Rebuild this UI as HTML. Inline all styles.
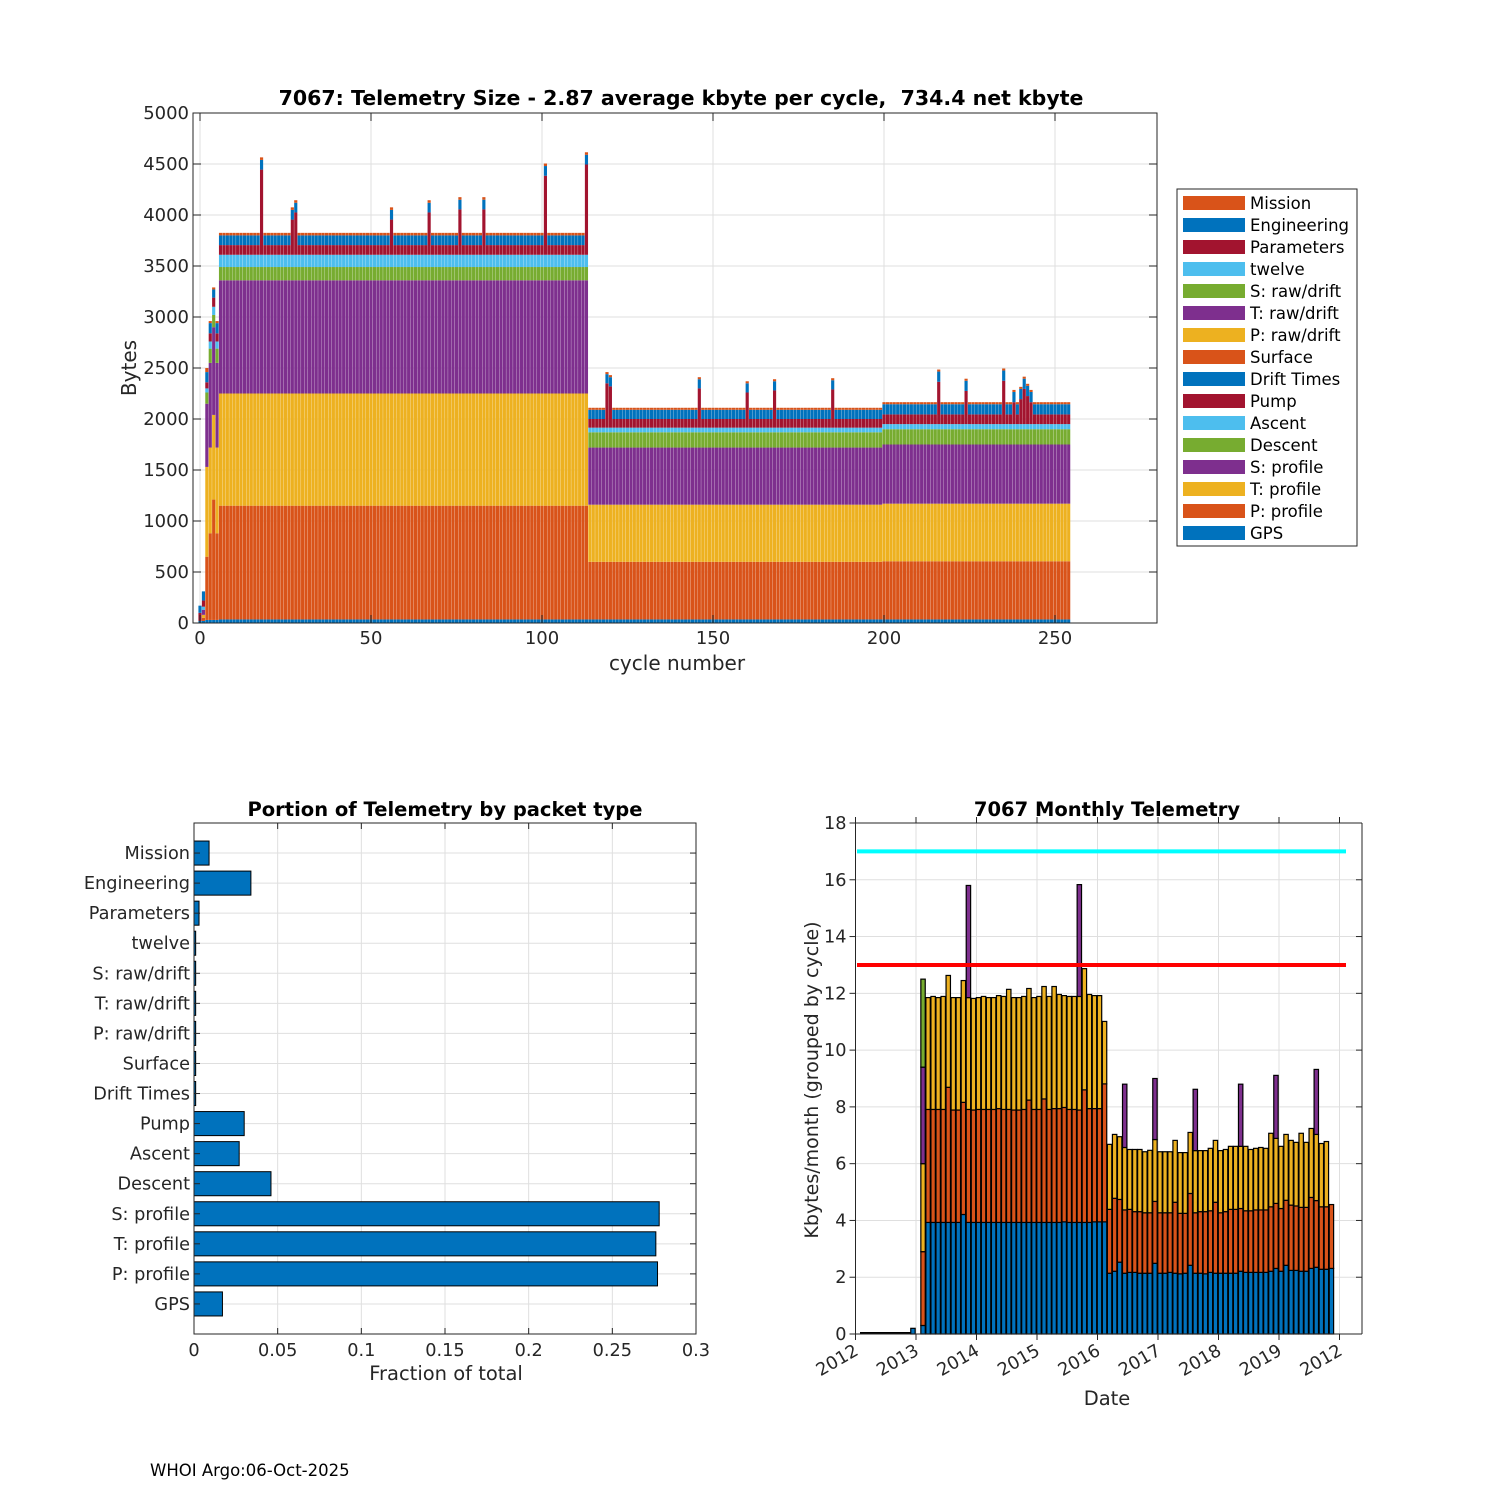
<!DOCTYPE html>
<html><head><meta charset="utf-8"><style>
body{margin:0;background:#fff;}
svg{display:block;font-family:"DejaVu Sans","Liberation Sans",sans-serif;}
</style></head><body>
<svg id="root" width="1500" height="1500" viewBox="0 0 1500 1500" xmlns="http://www.w3.org/2000/svg">
<rect width="1500" height="1500" fill="#fff"/>
<g id="top"></g>
<g id="bl"></g>
<g id="br"></g>
<text x="150" y="1476" font-size="16.5" fill="#000">WHOI Argo:06-Oct-2025</text>
</svg>
<script>
function rep(v,n){return Array(n).fill(v);}
// ---------- TOP CHART DATA (bytes per cycle, by layer) ----------
const gpsBytes   = [20,20,30,30,30,30].concat(rep(35,108),rep(35,86),rep(35,55));
const pProfile   = [0,30,620,850,1180,850].concat(rep(1115,108),rep(565,86),rep(570,55));
const tProfile   = [0,30,880,840,830,840].concat(rep(1100,108),rep(560,86),rep(565,55));
const sProfile   = [0,50,620,830,860,830].concat(rep(1110,108),rep(560,86),rep(580,55));
const descent    = [0,0,110,140,120,140].concat(rep(130,108),rep(150,86),rep(150,55));
const ascent     = [0,30,40,70,80,70].concat(rep(120,108),rep(45,86),rep(50,55));
const pump       = [80,60,60,80,90,80].concat(rep(95,108),rep(85,86),rep(95,55));
const engineering= [70,90,100,100,80,100].concat(rep(95,108),rep(90,86),rep(100,55));
const mission    = [0,0,40,20,20,20].concat(rep(25,108),rep(20,86),rep(20,55));
const spikeCycles= [18,27,28,56,67,76,83,101,113,119,120,146,160,168,185,216,224,235,238,240,241,242,243];
const spikeBytes = [740,250,320,250,320,350,350,680,790,350,320,300,260,280,290,320,230,330,120,150,250,180,120];
const topXTicks = [0,50,100,150,200,250];
const topYTicks = [0,500,1000,1500,2000,2500,3000,3500,4000,4500,5000];
const legendNames = ["Mission","Engineering","Parameters","twelve","S: raw/drift","T: raw/drift","P: raw/drift","Surface","Drift Times","Pump","Ascent","Descent","S: profile","T: profile","P: profile","GPS"];

// ---------- BOTTOM LEFT DATA ----------
const packetTypes = ["Mission","Engineering","Parameters","twelve","S: raw/drift","T: raw/drift","P: raw/drift","Surface","Drift Times","Pump","Ascent","Descent","S: profile","T: profile","P: profile","GPS"];
const packetFractions = [0.009,0.034,0.003,0.001,0.001,0.001,0.001,0.001,0.001,0.030,0.027,0.046,0.278,0.276,0.277,0.017];
const fracTicks = [0,0.05,0.1,0.15,0.2,0.25,0.3];
const fracTickLabels = ["0","0.05","0.1","0.15","0.2","0.25","0.3"];

// ---------- BOTTOM RIGHT DATA (months since Jan 2012, cumulative tops in kbytes) ----------
const monthStart = 11;
const blueTop = [0.2,0,0.3,
 3.93,3.93,3.93,3.93,3.93,3.93,3.93,4.21,3.93,3.93,3.93,
 3.93,3.93,3.93,3.93,3.93,3.93,3.93,3.93,3.93,3.93,3.93,3.93,3.93,3.93,3.93,3.93,3.95,3.93,3.93,3.93,3.93,3.93,3.95,3.95,3.95,
 2.14,2.21,2.53,2.14,2.17,2.17,2.14,2.14,2.14,2.49,2.14,2.14,2.17,2.14,2.12,2.14,2.42,2.14,2.14,2.12,2.17,2.14,2.14,2.14,2.14,
 2.14,2.21,2.17,2.17,2.17,2.17,2.17,2.21,2.31,2.21,2.42,2.24,2.24,2.21,2.21,2.31,2.35,2.28,2.28,2.31];
const orangeTop = [0.2,0,2.9,
 7.91,7.91,7.91,7.91,8.69,7.89,7.89,8.16,7.91,7.89,7.91,
 7.91,7.91,7.91,7.94,7.91,7.91,7.89,7.89,7.91,8.24,7.91,7.91,8.28,7.91,7.94,7.94,7.98,7.91,7.91,7.89,8.60,7.94,7.94,7.94,8.81,
 4.39,4.78,4.74,4.37,4.39,4.31,4.31,4.27,4.27,4.67,4.27,4.27,4.27,4.64,4.25,4.25,4.95,4.27,4.31,4.31,4.34,4.64,4.27,4.31,4.39,
 4.39,4.42,4.34,4.34,4.37,4.37,4.37,4.48,4.60,4.42,4.71,4.54,4.51,4.46,4.46,4.81,4.70,4.48,4.48,4.56];
const yellowTop = [0.2,0,6.0,
 11.85,11.89,11.85,11.89,12.63,11.85,11.85,12.45,11.85,11.82,11.85,
 11.89,11.85,11.85,11.92,11.89,12.14,11.85,11.85,11.89,12.17,11.85,11.89,12.24,11.89,12.24,11.96,11.92,11.89,11.89,11.89,12.87,11.96,11.92,11.92,11.01,
 6.68,7.03,6.95,6.57,6.50,6.50,6.50,6.42,6.47,6.85,6.42,6.42,6.42,6.82,6.39,6.39,7.10,6.46,6.46,6.46,6.54,6.82,6.46,6.50,6.61,
 6.61,6.61,6.61,6.50,6.54,6.57,6.54,7.07,6.89,6.61,7.03,6.82,6.75,7.07,6.75,7.24,7.03,6.71,6.78,4.56];
const purpleMonths = [13,22,44,53,59,67,76,83,91];
const purpleTop =    [9.4,15.80,15.83,8.80,9.00,8.62,8.80,9.11,9.32];
const greenMonths = [13];
const greenTop = [12.5];
const kbTicks = [0,2,4,6,8,10,12,14,16,18];
const yearTicks = [2012,2013,2014,2015,2016,2017,2018,2019,2020];
const yearTickLabels = ["2012","2013","2014","2015","2016","2017","2018","2019","2012"];
const limitLines = [17,13];

const NS="http://www.w3.org/2000/svg";
function mk(parent,tag,attrs,text){const e=document.createElementNS(NS,tag);for(const k in attrs)e.setAttribute(k,attrs[k]);if(text!==undefined)e.textContent=text;parent.appendChild(e);return e;}
const C={blue:"#0072BD",orange:"#D95319",yellow:"#EDB120",purple:"#7E2F8E",green:"#77AC30",cyan:"#4DBEEE",red:"#A2142F"};

// ================= TOP CHART =================
(function(){
 const g=document.getElementById('top');
 const L=193,R=1157,T=113,B=623;
 const xs=c=>200+c*3.42, ys=v=>B-v*(B-T)/5000;
 for(const t of topYTicks){const l=mk(g,'line',{x1:L,x2:R,y1:ys(t),y2:ys(t),stroke:'#dfdfdf','stroke-width':1});
  
  }
 for(const t of topXTicks){const l=mk(g,'line',{x1:xs(t),x2:xs(t),y1:T,y2:B,stroke:'#dfdfdf','stroke-width':1});
  
  }
 const layers=[[gpsBytes,C.blue],[pProfile,C.orange],[tProfile,C.yellow],[sProfile,C.purple],[descent,C.green],[ascent,C.cyan],[pump,C.red],[engineering,C.blue],[mission,C.orange]];
 const n=gpsBytes.length, bw=3.15;
 for(let c=0;c<n;c++){
  let cum=0;
  const si=spikeCycles.indexOf(c);
  for(let li=0;li<layers.length;li++){
   let v=layers[li][0][c];
   if(li===6&&si>=0)v+=spikeBytes[si];
   if(!v)continue;
   const r=mk(g,'rect',{x:xs(c)-bw/2,y:ys(cum+v),width:bw,height:ys(cum)-ys(cum+v),fill:layers[li][1]});
   
   
   cum+=v;
  }
 }
 mk(g,'rect',{x:L,y:T,width:R-L,height:B-T,fill:'none',stroke:'#262626','stroke-width':1});
 for(const t of topYTicks){
  mk(g,'line',{x1:L,x2:L+8,y1:ys(t),y2:ys(t),stroke:'#262626'});
  mk(g,'line',{x1:R,x2:R-8,y1:ys(t),y2:ys(t),stroke:'#262626'});
  const tx=mk(g,'text',{x:L-4,y:ys(t)+6,'text-anchor':'end','font-size':18,fill:'#262626'},String(t));
  
  
 }
 for(const t of topXTicks){
  mk(g,'line',{x1:xs(t),x2:xs(t),y1:B,y2:B-8,stroke:'#262626'});
  mk(g,'line',{x1:xs(t),x2:xs(t),y1:T,y2:T+8,stroke:'#262626'});
  const tx=mk(g,'text',{x:xs(t),y:B+21,'text-anchor':'middle','font-size':18,fill:'#262626'},String(t));
  
  
 }
 let e=mk(g,'text',{x:677,y:670,'text-anchor':'middle','font-size':20,fill:'#262626'},'cycle number');
 
 e=mk(g,'text',{x:136,y:368,'text-anchor':'middle','font-size':20,fill:'#262626',transform:'rotate(-90 136 368)'},'Bytes');
 
 e=mk(g,'text',{x:681,y:105,'text-anchor':'middle','font-size':20.5,'font-weight':'bold',fill:'#000',style:'white-space:pre'},'7067: Telemetry Size - 2.87 average kbyte per cycle,  734.4 net kbyte');
 
 // legend
 const lg=mk(g,'g',{});
 
 
 mk(lg,'rect',{x:1177,y:189,width:180,height:357,fill:'#fff',stroke:'#262626','stroke-width':1});
 const lc=[C.orange,C.blue,C.red,C.cyan,C.green,C.purple,C.yellow,C.orange,C.blue,C.red,C.cyan,C.green,C.purple,C.yellow,C.orange,C.blue];
 legendNames.forEach((nm,i)=>{
  const yy=203+i*22;
  const en=mk(lg,'g',{});
  
  
  mk(en,'rect',{x:1183,y:yy-7,width:62,height:14,fill:lc[i]});
  mk(en,'text',{x:1250,y:yy+6,'font-size':16.5,fill:'#000'},nm);
 });
})();

// ================= BOTTOM LEFT =================
(function(){
 const g=document.getElementById('bl');
 const L=194,R=696,T=823,B=1334;
 const xs=v=>L+v*(R-L)/0.3;
 const step=(B-T)/17;
 const yc=i=>T+(i+1)*step;
 for(const t of fracTicks){const l=mk(g,'line',{x1:xs(t),x2:xs(t),y1:T,y2:B,stroke:'#dfdfdf'});
  }
 packetTypes.forEach((p,i)=>{const l=mk(g,'line',{x1:L,x2:R,y1:yc(i),y2:yc(i),stroke:'#dfdfdf'});
  });
 packetTypes.forEach((p,i)=>{
  const v=packetFractions[i];
  const r=mk(g,'rect',{x:L,y:yc(i)-step*0.4,width:xs(v)-L,height:step*0.8,fill:C.blue,stroke:'#000','stroke-width':1});
  
  
  const t=mk(g,'text',{x:L-4,y:yc(i)+6,'text-anchor':'end','font-size':17.7,fill:'#262626'},p);
  
  mk(g,'line',{x1:L,x2:L+6,y1:yc(i),y2:yc(i),stroke:'#262626'});
  mk(g,'line',{x1:R,x2:R-6,y1:yc(i),y2:yc(i),stroke:'#262626'});
 });
 mk(g,'rect',{x:L,y:T,width:R-L,height:B-T,fill:'none',stroke:'#262626'});
 fracTicks.forEach((t,i)=>{
  mk(g,'line',{x1:xs(t),x2:xs(t),y1:B,y2:B-6,stroke:'#262626'});
  mk(g,'line',{x1:xs(t),x2:xs(t),y1:T,y2:T+6,stroke:'#262626'});
  const tx=mk(g,'text',{x:xs(t),y:B+22,'text-anchor':'middle','font-size':17.7,fill:'#262626'},fracTickLabels[i]);
  
 });
 let e=mk(g,'text',{x:446,y:1380,'text-anchor':'middle','font-size':19.5,fill:'#262626'},'Fraction of total');
 
 e=mk(g,'text',{x:445,y:816,'text-anchor':'middle','font-size':19.5,'font-weight':'bold',fill:'#000'},'Portion of Telemetry by packet type');
 
})();

// ================= BOTTOM RIGHT =================
(function(){
 const g=document.getElementById('br');
 const L=855.5,R=1357,T=823,B=1334;
 const ys=v=>B-v*(B-T)/18;
 const yx=yr=>855.5+(yr-2012)*60.5;
 const mx=m=>857.5+m*60.5/12;
 for(const t of kbTicks){const l=mk(g,'line',{x1:L,x2:R,y1:ys(t),y2:ys(t),stroke:'#dfdfdf'});
  }
 for(const t of yearTicks){const l=mk(g,'line',{x1:yx(t),x2:yx(t),y1:T,y2:B,stroke:'#dfdfdf'});
  }
 const bw=4.4;
 const z=mk(g,'line',{x1:860,x2:mx(monthStart)-bw/2,y1:B-1,y2:B-1,stroke:'#000','stroke-width':2});
 
 function seg(m,lo,hi,col,name){
  if(hi<=lo)return;
  const r=mk(g,'rect',{x:mx(m)-bw/2,y:ys(hi),width:bw,height:ys(lo)-ys(hi),fill:col,stroke:'#000','stroke-width':1.2});
  
  
 }
 for(let i=0;i<blueTop.length;i++){
  const m=monthStart+i;
  seg(m,0,blueTop[i],C.blue,'bar-gps');
  seg(m,blueTop[i],orangeTop[i],C.orange,'bar-p-profile');
  seg(m,orangeTop[i],yellowTop[i],C.yellow,'bar-t-profile');
  const pi=purpleMonths.indexOf(m);
  let top=yellowTop[i];
  if(pi>=0){seg(m,top,purpleTop[pi],C.purple,'bar-s-profile');top=purpleTop[pi];}
  const gi=greenMonths.indexOf(m);
  if(gi>=0)seg(m,top,greenTop[gi],C.green,'bar-descent');
 }
 const lcol=['#00FFFF','#FF0000'];
 limitLines.forEach((v,i)=>{const l=mk(g,'line',{x1:857,x2:1346,y1:ys(v),y2:ys(v),stroke:lcol[i],'stroke-width':4});
  });
 mk(g,'line',{x1:L,x2:R,y1:T,y2:T,stroke:'#262626'});
 mk(g,'line',{x1:L,x2:R,y1:B,y2:B,stroke:'#262626'});
 mk(g,'line',{x1:L,x2:L,y1:T,y2:B,stroke:'#262626'});
 mk(g,'line',{x1:R+5,x2:R+5,y1:T,y2:B,stroke:'#262626'});
 for(const t of kbTicks){
  mk(g,'line',{x1:L-6,x2:L,y1:ys(t),y2:ys(t),stroke:'#262626'});
  mk(g,'line',{x1:R+5,x2:R-1,y1:ys(t),y2:ys(t),stroke:'#262626'});
  const tx=mk(g,'text',{x:L-9,y:ys(t)+6,'text-anchor':'end','font-size':17.7,fill:'#262626'},String(t));
  
 }
 yearTicks.forEach((t,i)=>{
  mk(g,'line',{x1:yx(t),x2:yx(t),y1:B,y2:B+6,stroke:'#262626'});
  mk(g,'line',{x1:yx(t),x2:yx(t),y1:T,y2:T-6,stroke:'#262626'});
  const x0=yx(t)+4,y0=B+20;
  const tx=mk(g,'text',{x:x0,y:y0,'text-anchor':'end','font-size':17.7,fill:'#262626',transform:'rotate(-30 '+x0+' '+y0+')'},yearTickLabels[i]);
  
 });
 let e=mk(g,'text',{x:1107,y:1405,'text-anchor':'middle','font-size':19.5,fill:'#262626'},'Date');
 
 e=mk(g,'text',{x:818,y:1080,'text-anchor':'middle','font-size':19,fill:'#262626',transform:'rotate(-90 818 1080)'},'Kbytes/month (grouped by cycle)');
 
 e=mk(g,'text',{x:1107,y:816,'text-anchor':'middle','font-size':19.5,'font-weight':'bold',fill:'#000'},'7067 Monthly Telemetry');
 
})();
</script>
</body></html>
